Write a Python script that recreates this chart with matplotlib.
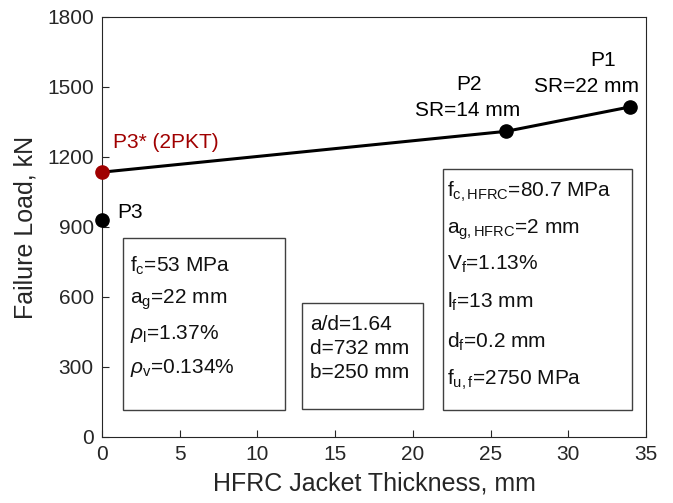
import numpy as np
import matplotlib
matplotlib.use("Agg")
import matplotlib.pyplot as plt
from matplotlib.patches import Rectangle

plt.rcParams['font.family'] = ['Liberation Sans', 'DejaVu Sans']
plt.rcParams['mathtext.fontset'] = 'custom'
plt.rcParams['mathtext.rm'] = 'Liberation Sans'
plt.rcParams['mathtext.it'] = 'Liberation Sans:italic'

#dati
spessore = [0, 26, 34]
carico = [1135, 1310, 1415]
spessore_p3 = 0
carico_p3 = 930

testo_1 = [r"f$_\mathrm{c}$=53 MPa", r"a$_\mathrm{g}$=22 mm",
	r"$\rho_\mathrm{l}$=1.37%", r"$\rho_\mathrm{v}$=0.134%"]
testo_2 = ["a/d=1.64", "d=732 mm", "b=250 mm"]
testo_3 = [r"f$_\mathrm{c,HFRC}$=80.7 MPa", r"a$_\mathrm{g,HFRC}$=2 mm",
	r"V$_\mathrm{f}$=1.13%", r"l$_\mathrm{f}$=13 mm",
	r"d$_\mathrm{f}$=0.2 mm", r"f$_\mathrm{u,f}$=2750 MPa"]

grigio = "#262626"
rosso = "#a00000"
W, H = 673, 503
L, R, T, B = 102, 646, 17, 437

fig = plt.figure(figsize=(W/100, H/100), dpi=100)
ax = fig.add_axes([L/W, 1-B/H, (R-L)/W, (B-T)/H])

#da pixel a coordinate assi
def px(x, y):
	return (x-L)/(R-L), (B-y)/(B-T)

ax.plot(spessore, carico, "k-", lw=2.2)
ax.plot(spessore[1:], carico[1:], "ko", ms=9.5)
ax.plot(spessore[0], carico[0], "o", color=rosso, ms=9.5, clip_on=False, zorder=5)
ax.plot(spessore_p3, carico_p3, "ko", ms=9.5, clip_on=False, zorder=5)

ax.set_xlim(0, 35)
ax.set_ylim(0, 1800)
ax.set_xticks(np.arange(0, 36, 5))
ax.set_yticks(np.arange(0, 1801, 300))
ax.tick_params(direction="in", labelsize=15, colors=grigio, length=5, pad=6)
for s in ax.spines.values():
	s.set_color(grigio)
ax.set_xlabel("HFRC Jacket Thickness, mm", fontsize=18, color=grigio, labelpad=5)
ax.set_ylabel("Failure Load, kN", fontsize=18, color=grigio, labelpad=7)

#etichette punti
def scrivi(x, y, s, **kw):
	xa, ya = px(x, y)
	ax.text(xa, ya, s, transform=ax.transAxes, fontsize=15, va="center", **kw)

scrivi(113, 143, "P3* (2PKT)", color=rosso, ha="left")
scrivi(117, 213, "P3", color="k", ha="left")
scrivi(469, 84, "P2", color="k", ha="center")
scrivi(468, 111, "SR=14 mm", color="k", ha="center")
scrivi(603, 60, "P1", color="k", ha="center")
scrivi(586, 87, "SR=22 mm", color="k", ha="center")

#riquadri con parametri
def riquadro(x0, y0, x1, y1):
	xa, ya = px(x0, y1)
	xb, yb = px(x1, y0)
	ax.add_patch(Rectangle((xa, ya), xb-xa, yb-ya, transform=ax.transAxes,
		fc="white", ec="#404040", lw=1, zorder=3))

riquadro(123, 238, 285, 410)
for s, y in zip(testo_1, [266, 300, 334, 368]):
	scrivi(130, y, s, color="#111111", ha="left", zorder=4)

riquadro(302, 303, 423, 409)
for s, y in zip(testo_2, [325, 349, 373]):
	scrivi(310, y, s, color="#111111", ha="left", zorder=4)

riquadro(443, 169, 632, 410)
for s, y in zip(testo_3, [192, 230, 264, 302, 342, 380]):
	scrivi(447, y, s, color="#111111", ha="left", zorder=4)

fig.savefig("out.png", dpi=100)
